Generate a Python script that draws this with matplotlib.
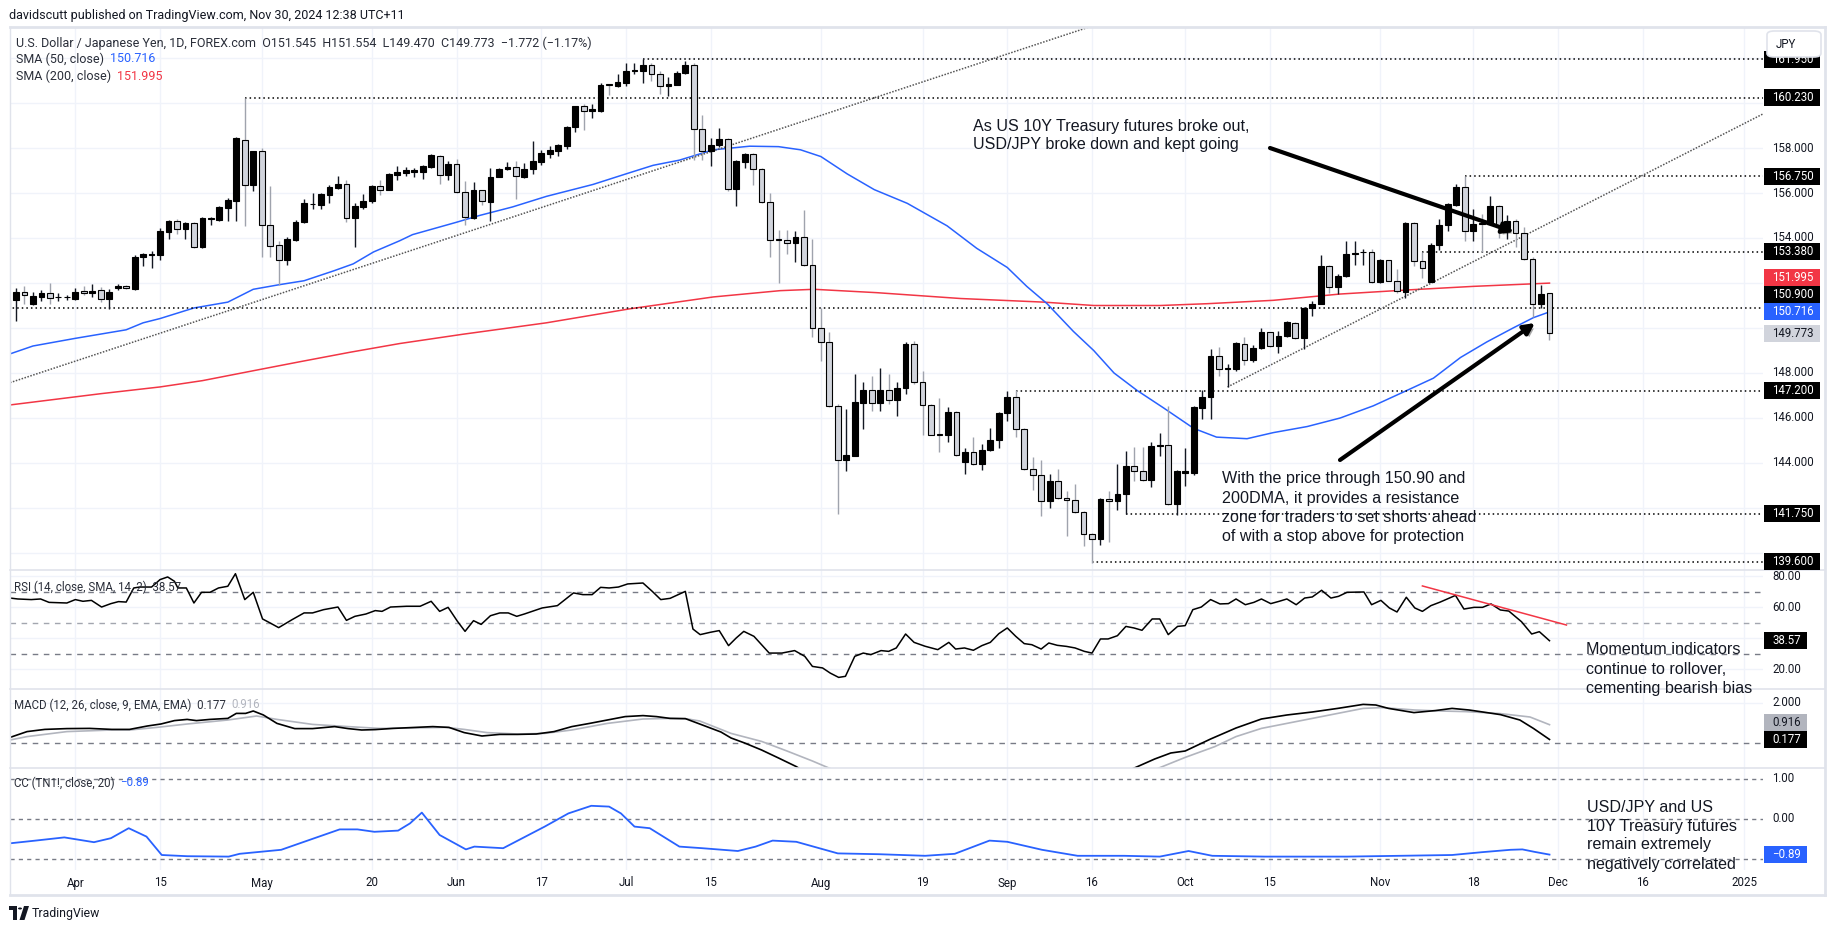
import matplotlib
matplotlib.use("Agg")
import matplotlib.pyplot as plt
import matplotlib.patches as mpatches
import matplotlib.patheffects as pe
import numpy as np

W, H = 1835, 931
UI = "Roboto"
NOTE = "Liberation Sans"
INK = "#131722"
GRID = "#f0f3fa"
BORDER = "#e0e3eb"
BLUE = "#2962ff"
RED = "#f23645"

# ---------------- data ----------------
# bar 0 = 20 Mar 2024, one bar per weekday, bar 182 = 29 Nov 2024
opens = [150.85, 151.23, 151.62, 151.05, 151.38, 151.54, 151.36, 151.36, 151.31, 151.65,
         151.54, 151.69, 151.31, 151.77, 151.88, 151.74, 153.15, 153.26, 153.26, 154.28,
         154.74, 154.38, 154.65, 153.58, 154.86, 154.82, 155.34, 155.66, 158.34, 156.34,
         157.85, 154.57, 153.69, 153.00, 153.92, 154.69, 155.49, 155.46, 155.92, 156.23,
         156.42, 154.88, 155.38, 155.66, 156.31, 156.15, 156.80, 156.88, 156.95, 156.92,
         157.15, 157.66, 156.80, 157.31, 156.05, 154.89, 156.12, 155.62, 156.72, 157.05,
         157.15, 156.69, 157.05, 157.38, 157.74, 157.88, 158.08, 158.92, 159.85, 159.65,
         159.66, 160.84, 160.74, 160.89, 161.44, 161.43, 161.69, 161.28, 160.77, 160.82,
         161.35, 161.69, 158.85, 157.88, 158.12, 158.42, 156.20, 157.38, 157.74, 157.05,
         155.58, 153.95, 153.92, 153.77, 154.05, 152.80, 150.00, 149.38, 146.54, 144.15,
         144.31, 146.66, 147.23, 146.65, 147.23, 146.80, 147.35, 149.31, 147.62, 146.58,
         145.27, 145.26, 146.28, 144.03, 144.50, 143.95, 144.58, 145.00, 146.20, 146.95,
         145.49, 143.72, 143.46, 142.31, 143.20, 142.46, 142.35, 141.82, 140.85, 140.62,
         142.42, 142.31, 142.62, 143.88, 143.65, 143.23, 144.74, 144.82, 142.18, 143.54,
         143.54, 146.46, 146.95, 148.74, 148.18, 148.18, 149.31, 148.58, 149.12, 149.80,
         149.20, 149.65, 150.23, 149.57, 150.88, 151.08, 152.77, 151.82, 152.31, 153.28,
         153.36, 153.38, 152.03, 153.00, 152.11, 151.62, 154.65, 152.97, 152.06, 153.70,
         154.58, 155.46, 156.28, 154.32, 154.66, 154.62, 155.43, 154.36, 154.76, 154.20,
         153.05, 151.05, 151.545]
highs = [151.40, 151.77, 151.88, 151.62, 151.69, 152.00, 151.54, 151.46, 151.77, 151.85,
         151.97, 151.81, 151.73, 151.97, 151.92, 153.23, 153.35, 153.42, 154.46, 154.80,
         154.85, 154.69, 154.69, 154.92, 154.95, 155.42, 155.77, 158.49, 160.23, 157.88,
         158.00, 156.30, 153.85, 154.03, 154.80, 155.74, 155.98, 155.98, 156.34, 156.77,
         156.57, 155.54, 155.97, 156.34, 156.60, 156.89, 157.20, 157.15, 157.12, 157.23,
         157.74, 157.69, 157.42, 157.49, 156.54, 156.49, 156.14, 157.10, 157.12, 157.38,
         157.43, 157.34, 158.30, 157.92, 158.08, 158.20, 159.00, 159.88, 159.97, 159.97,
         160.89, 160.85, 161.28, 161.77, 161.77, 161.95, 161.77, 161.42, 161.15, 161.43,
         161.85, 161.80, 159.46, 158.46, 158.89, 158.46, 157.46, 157.77, 157.77, 157.12,
         155.99, 154.35, 154.35, 154.30, 155.23, 153.95, 150.89, 149.80, 146.62, 146.38,
         147.95, 147.62, 147.85, 148.23, 147.95, 147.62, 149.38, 149.40, 148.08, 146.62,
         146.89, 146.51, 146.31, 144.66, 145.15, 144.85, 145.54, 146.28, 147.18, 147.26,
         145.57, 144.26, 144.12, 143.51, 143.74, 142.77, 143.05, 141.85, 140.89, 142.46,
         142.77, 143.94, 144.54, 144.69, 144.69, 144.92, 145.35, 146.54, 143.69, 144.66,
         146.54, 147.26, 149.05, 149.15, 148.38, 149.38, 149.62, 149.23, 149.98, 149.82,
         149.85, 150.31, 150.26, 150.92, 151.20, 153.23, 152.80, 152.38, 153.88, 153.85,
         153.49, 153.49, 153.05, 153.02, 152.62, 154.69, 154.69, 153.38, 153.77, 154.85,
         155.54, 156.38, 156.75, 155.30, 155.08, 155.86, 155.46, 155.00, 154.85, 154.50,
         153.15, 151.90, 151.554]
lows = [150.80, 150.31, 151.08, 151.00, 151.20, 151.08, 151.20, 151.23, 151.26, 151.46,
        151.38, 151.16, 150.85, 151.69, 151.73, 151.70, 152.77, 152.65, 153.00, 153.95,
        154.18, 153.95, 153.54, 153.54, 154.57, 154.77, 154.77, 154.77, 154.54, 156.08,
        153.15, 153.15, 151.92, 152.80, 153.88, 154.65, 155.28, 155.28, 155.57, 156.16,
        154.72, 153.62, 155.31, 155.54, 155.91, 156.12, 156.57, 156.77, 156.72, 156.62,
        157.12, 156.38, 156.60, 156.00, 154.58, 154.85, 155.46, 154.77, 156.69, 157.03,
        155.72, 156.66, 156.86, 157.23, 157.55, 157.66, 157.97, 158.72, 158.80, 159.35,
        159.62, 160.35, 160.69, 160.77, 161.31, 160.88, 161.00, 160.39, 160.31, 160.80,
        161.31, 157.46, 157.46, 157.20, 158.03, 156.08, 155.43, 157.12, 156.34, 155.57,
        153.15, 152.00, 153.31, 152.95, 152.77, 149.62, 148.54, 146.49, 141.72, 143.66,
        144.31, 145.49, 146.32, 146.32, 146.62, 146.10, 147.08, 147.50, 145.26, 145.23,
        144.49, 144.92, 144.31, 143.51, 143.92, 143.69, 144.54, 144.66, 145.85, 145.15,
        143.69, 142.80, 141.65, 142.00, 142.40, 140.77, 141.77, 140.31, 139.57, 140.35,
        140.49, 141.92, 141.72, 143.20, 143.20, 142.92, 144.31, 142.15, 141.68, 142.98,
        143.46, 145.95, 145.94, 147.85, 147.38, 148.10, 148.34, 148.49, 149.08, 149.15,
        148.89, 149.62, 149.51, 149.05, 150.54, 151.05, 151.54, 151.51, 152.28, 152.80,
        152.80, 152.00, 152.00, 152.08, 151.54, 151.35, 152.77, 152.23, 152.05, 153.46,
        154.31, 155.42, 153.85, 153.85, 153.38, 154.58, 154.00, 153.97, 153.60, 153.02,
        150.50, 150.90, 149.470]
closes = [151.23, 151.62, 151.46, 151.42, 151.57, 151.34, 151.38, 151.38, 151.62, 151.54,
          151.66, 151.31, 151.62, 151.88, 151.77, 153.15, 153.28, 153.28, 154.31, 154.74,
          154.38, 154.65, 153.58, 154.89, 154.89, 155.38, 155.69, 158.46, 156.34, 157.85,
          154.57, 153.66, 153.00, 153.97, 154.72, 155.54, 155.52, 155.95, 156.26, 156.42,
          154.88, 155.42, 155.66, 156.31, 156.15, 156.85, 156.92, 157.03, 157.03, 157.18,
          157.69, 156.82, 157.31, 156.05, 154.92, 156.12, 155.65, 156.72, 157.08, 157.15,
          156.74, 157.08, 157.42, 157.77, 157.89, 158.12, 158.95, 159.85, 159.65, 159.72,
          160.82, 160.80, 160.92, 161.42, 161.46, 161.69, 161.28, 160.77, 160.85, 161.35,
          161.69, 158.85, 157.88, 158.15, 158.42, 156.20, 157.42, 157.74, 157.05, 155.58,
          153.89, 153.92, 153.77, 154.05, 152.80, 150.00, 149.38, 146.54, 144.15, 144.34,
          146.69, 147.23, 146.65, 147.23, 146.80, 147.35, 149.31, 147.62, 146.58, 145.26,
          145.24, 146.28, 144.34, 144.50, 143.95, 144.58, 145.00, 146.23, 146.95, 145.49,
          143.72, 143.46, 142.31, 143.20, 142.43, 142.35, 141.82, 140.85, 140.62, 142.42,
          142.31, 142.62, 143.88, 143.65, 143.23, 144.74, 144.82, 142.18, 143.65, 143.65,
          146.49, 146.95, 148.74, 148.18, 148.20, 149.34, 148.58, 149.12, 149.80, 149.20,
          149.65, 150.26, 149.57, 150.88, 151.08, 152.77, 151.82, 152.31, 153.28, 153.35,
          153.38, 152.03, 153.00, 152.11, 151.66, 154.66, 152.97, 152.66, 153.70, 154.58,
          155.49, 156.28, 154.32, 154.64, 154.60, 155.43, 154.50, 154.76, 154.20, 153.05,
          151.05, 151.50, 149.773]

# moving averages (bar position, value)
sma50_x = [0.3, 3, 8, 14, 16, 18, 22, 26, 29, 32, 35, 38.5, 40.8, 43.2, 46.3, 47.8, 52.9, 55.7,
           59.6, 63.6, 69.1, 73, 76.2, 79.3, 83.3, 87.6, 91, 93.6, 96, 99.1, 102.3, 106.2, 110.9,
           114.4, 118, 120.3, 122.7, 125.8, 128.2, 130.6, 133.3, 136.4, 140, 142.7, 146.3, 149.4,
           153.4, 157.3, 161.2, 165.2, 168.3, 171.5, 174.6, 177.7, 180.1, 182]
sma50_y = [148.85, 149.2, 149.54, 149.92, 150.23, 150.42, 150.89, 151.15, 151.72, 151.92, 152.1,
           152.54, 152.85, 153.38, 153.88, 154.15, 154.69, 155.0, 155.38, 155.85, 156.38, 156.85,
           157.23, 157.46, 157.92, 158.08, 158.06, 157.92, 157.62, 156.85, 156.15, 155.54, 154.54,
           153.54, 152.69, 151.85, 151.08, 149.85, 149.0, 148.0, 147.23, 146.46, 145.54, 145.15,
           145.08, 145.35, 145.62, 146.0, 146.54, 147.23, 147.77, 148.69, 149.38, 150.0, 150.46,
           150.716]
sma200_x = [0.3, 11, 18, 23, 29, 34.5, 40.4, 46.3, 53.7, 63.6, 73.4, 83.3, 91.2, 95.2, 102.6,
            112.5, 122.3, 128.2, 136.1, 141.6, 149.4, 157.3, 165.2, 173, 182]
sma200_y = [146.58, 147.08, 147.38, 147.66, 148.1, 148.5, 148.92, 149.31, 149.72, 150.23, 150.85,
            151.38, 151.66, 151.72, 151.57, 151.31, 151.15, 151.0, 151.0, 151.08, 151.23, 151.51,
            151.69, 151.85, 151.995]

rsi_x = [0.3, 1.2, 2.8, 3.9, 4.9, 7.0, 8.0, 8.9, 9.9, 11.1, 12.2, 13.1, 14.0, 14.9, 15.6, 17.0,
         18.0, 18.9, 19.7, 20.1, 21.1, 22.0, 22.9, 23.9, 24.9, 26.0, 26.9, 28.0, 29.0, 30.1, 31.0,
         32.0, 33.6, 35.0, 36.0, 37.3, 39.0, 40.0, 41.0, 42.3, 43.4, 44.2, 45.2, 47.1, 48.7, 50.0,
         51.0, 52.0, 53.1, 54.0, 55.0, 55.9, 57.0, 58.1, 59.1, 60.1, 61.0, 63.1, 64.9, 66.8, 67.9,
         69.0, 70.0, 71.0, 72.1, 73.2, 75.0, 76.1, 77.1, 78.2, 80.0, 80.9, 81.75, 82.95, 84.0,
         85.1, 86.0, 86.9, 88.1, 89.9, 91.4, 92.9, 94.1, 95.0, 96.2, 97.1, 98.1, 98.9, 100.0,
         101.0, 101.9, 103.1, 104.0, 104.9, 106.0, 107.0, 108.3, 109.8, 111.1, 111.9, 112.95,
         114.0, 115.0, 116.0, 117.0, 118.0, 119.0, 120.0, 120.9, 122.0, 122.9, 123.9, 125.0,
         126.0, 127.1, 128.0, 129.0, 129.9, 131.0, 132.0, 132.95, 133.9, 135.1, 136.0, 137.0,
         138.1, 139.0, 139.9, 140.9, 142.0, 143.1, 144.1, 145.0, 146.1, 147.1, 148.0, 149.1,
         150.1, 151.0, 152.1, 153.1, 154.0, 155.1, 156.2, 157.1, 158.1, 160.1, 161.0, 162.1,
         163.1, 164.0, 165.1, 166.1, 167.0, 168.0, 169.1, 170.9, 171.9, 173.1, 174.1, 175.1,
         176.2, 177.2, 178.7, 179.9, 180.8, 182]
rsi_y = [66.1, 65.5, 65.1, 65.5, 63.3, 62.9, 65.1, 64.0, 64.6, 60.3, 62.5, 63.8, 63.5, 72.6, 73.2,
         73.2, 78.0, 79.7, 76.9, 72.6, 72.6, 62.9, 69.8, 69.8, 72.6, 73.7, 81.8, 65.1, 69.8, 52.6,
         50.0, 47.0, 52.2, 56.5, 56.5, 58.6, 60.3, 51.7, 54.3, 55.8, 58.0, 57.5, 60.3, 60.8, 60.8,
         64.0, 57.5, 60.1, 51.1, 44.6, 51.5, 49.1, 54.7, 56.5, 56.5, 54.3, 55.8, 59.7, 61.2, 69.4,
         68.3, 68.3, 73.0, 72.6, 73.2, 75.2, 75.8, 70.4, 65.1, 65.9, 70.4, 46.1, 42.5, 44.0, 45.1,
         35.4, 40.3, 44.6, 41.4, 30.6, 30.6, 32.2, 28.5, 22.0, 21.0, 17.7, 14.9, 15.6, 28.5,
         30.6, 29.6, 32.2, 31.7, 33.9, 42.9, 37.5, 35.0, 32.8, 37.5, 33.2, 33.9,
         32.4, 35.4, 37.5, 43.1, 46.8, 41.4, 36.7, 36.0, 33.2, 37.1, 35.6, 34.9,
         33.9, 31.7, 30.6, 39.7, 39.7, 41.8, 47.8, 46.8, 45.3, 52.6, 52.6, 42.5,
         47.8, 48.3, 58.6, 60.3, 65.1, 62.3, 62.5, 65.5, 61.8, 63.3, 65.5, 62.5,
         64.0, 65.5, 61.8, 66.1, 66.8, 71.1, 66.1, 67.2, 69.8, 70.0, 61.8, 64.6,
         59.7, 57.1, 66.6, 59.7, 57.5, 61.2, 63.5, 67.8, 59.0, 60.1, 60.1, 62.3,
         58.4, 57.7, 50.8, 42.9, 44.4, 38.57]
rsi_trend_x = [167, 184]
rsi_trend_y = [73.9, 48.7]

macd_x = [0.3, 2.3, 4.4, 7.0, 9.7, 12.3, 14.4, 16.5, 18.1, 19.7, 21.2, 22.3, 23.9, 26.0, 27.0,
          28.1, 29.0, 30.2, 31.8, 33.9, 36.0, 38.6, 40.2, 41.8, 43.4, 45.5, 47.6, 50.2, 52.1,
          53.9, 56.0, 58.1, 60.2, 62.4, 64.5, 66.6, 68.7, 70.8, 72.9, 75.0, 76.6, 78.2, 80.0,
          81.7, 84.2, 85.4, 87.0, 89.0, 91.0, 93.1, 95, 100, 110, 120, 128, 131, 133, 135.4,
          137.3, 139, 140.5, 142, 145, 148, 151, 154, 157, 160, 161.5, 163, 166, 168.5, 170.5,
          172.5, 173.8, 176.2, 178.5, 180.1, 182]
macd_y = [0.28, 0.57, 0.68, 0.72, 0.73, 0.68, 0.68, 0.85, 0.95, 1.12, 1.18, 1.12, 1.18, 1.23, 1.48,
          1.48, 1.60, 1.40, 0.98, 0.72, 0.72, 0.82, 0.72, 0.65, 0.67, 0.73, 0.77, 0.82, 0.78,
          0.52, 0.35, 0.43, 0.43, 0.45, 0.57, 0.82, 0.98, 1.15, 1.32, 1.37, 1.32, 1.23, 1.22,
          0.95, 0.55, 0.25, 0.0, -0.35, -0.75, -1.18, -1.7, -2.6, -3.0, -2.8, -2.0, -1.6, -1.25,
          -0.8, -0.5, -0.4, -0.1, 0.2, 0.75, 1.2, 1.4, 1.55, 1.73, 1.93, 1.9, 1.73, 1.52, 1.62,
          1.73, 1.65, 1.57, 1.42, 1.15, 0.73, 0.177]
signal_x = [0.3, 2.3, 7.0, 12.3, 14.4, 17.6, 21.2, 26.0, 29.4, 31.8, 36.0, 40.2, 43.9, 47.6, 51.8,
            53.9, 56.6, 60.2, 63.4, 66.6, 70.8, 75.0, 78.2, 80.3, 81.7, 85.4, 89.0, 92, 95, 97.5,
            105, 115, 125, 133, 135.9, 139, 142.5, 145, 148, 151, 154, 157, 160, 162.2, 166.1,
            169.1, 172.1, 176.2, 179.7, 182]
signal_y = [0.15, 0.32, 0.57, 0.65, 0.65, 0.78, 0.95, 1.15, 1.35, 1.18, 0.93, 0.82, 0.73, 0.75,
            0.78, 0.68, 0.52, 0.45, 0.48, 0.65, 0.98, 1.2, 1.23, 1.2, 1.1, 0.48, 0.08, -0.4, -0.9,
            -1.35, -2.3, -2.8, -2.4, -1.7, -1.25, -0.72, -0.18, 0.32, 0.73, 0.98, 1.23, 1.48,
            1.73, 1.77, 1.65, 1.6, 1.57, 1.47, 1.3, 0.916]

cc_x = [0.2, 3.3, 6.7, 10.2, 12.2, 14.3, 16.4, 18.2, 21.2, 26.1, 27.4, 32.3, 35.0, 39.2, 41.3, 43.3,
        46.1, 47.5, 48.9, 51.0, 54.1, 55.1, 58.5, 63.4, 66.2, 68.9, 71.0, 72.4, 74.0, 75.8, 79.3,
        82.0, 86.2, 88.3, 90.3, 93.1, 98.0, 102.8, 108.3, 111.8, 115.9, 118.0, 122.1, 126.3,
        131.8, 136.0, 139.4, 142.2, 148.4, 158.1, 164.3, 170.5, 174.0, 177.4, 178.8, 180.2, 182]
cc_y = [-0.61, -0.54, -0.46, -0.58, -0.48, -0.23, -0.44, -0.90, -0.93, -0.94, -0.87, -0.77, -0.57,
        -0.26, -0.26, -0.32, -0.29, -0.11, 0.16, -0.40, -0.76, -0.69, -0.73, -0.19, 0.14, 0.33,
        0.31, 0.14, -0.19, -0.23, -0.69, -0.73, -0.80, -0.69, -0.54, -0.57, -0.86, -0.88, -0.92,
        -0.87, -0.54, -0.57, -0.77, -0.92, -0.92, -0.94, -0.80, -0.92, -0.94, -0.94, -0.92,
        -0.90, -0.83, -0.77, -0.76, -0.82, -0.89]

# horizontal levels drawn on the chart and the bar they start from
level_vals = [161.95, 160.23, 156.75, 153.38, 150.90, 147.20, 141.75, 139.60]
level_from = [75, 28, 172, 167, 0, 119, 132, 128]
# dotted trend lines: start bar, start price, slope per bar
trend_lines = [(0.29, 147.57, 0.1241), (144, 147.38, 0.192)]

date_idx = [8, 18, 30, 43, 53, 63, 73, 83, 96, 108, 118, 128, 139, 149, 162, 173, 183, 193, 205]
date_lbl = ["Apr", "15", "May", "20", "Jun", "17", "Jul", "15", "Aug", "19", "Sep", "16", "Oct",
            "15", "Nov", "18", "Dec", "16", "2025"]

# ---------------- layout (pixels) ----------------
X0, X1 = 10, 1763
XL, XR = 0.29, 207.2
MAIN = (27, 570, 139.244, 163.378)
RSI = (570, 689, 7.42, 84.19)
MACD = (689, 768, -1.25, 2.7)
CC = (768, 870, -1.275, 1.275)

fig = plt.figure(figsize=(W / 100, H / 100), dpi=100)
fig.patch.set_facecolor("white")


def fx(x):
    return x / W


def fy(y):
    return 1 - y / H


def ypix(spec, v):
    top, bot, lo, hi = spec
    return top + (hi - v) / (hi - lo) * (bot - top)


def to_data(spec, x, y):
    top, bot, lo, hi = spec
    return XL + (x - X0) / (X1 - X0) * (XR - XL), hi - (y - top) / (bot - top) * (hi - lo)


def pane(spec):
    top, bot, lo, hi = spec
    ax = fig.add_axes([fx(X0), fy(bot), (X1 - X0) / W, (bot - top) / H])
    ax.set_xlim(XL, XR)
    ax.set_ylim(lo, hi)
    ax.axis("off")
    for t in date_idx:
        ax.axvline(t, color=GRID, lw=1, zorder=0)
    return ax


# ---------------- price pane ----------------
ax = pane(MAIN)
for g in range(140, 163, 2):
    ax.axhline(g, color=GRID, lw=1, zorder=0)

o = np.array(opens)
h = np.array(highs)
l = np.array(lows)
c = np.array(closes)
idx = np.arange(len(o))
up = c >= o
ax.vlines(idx[up], l[up], h[up], color="#131722", lw=1, zorder=3)
ax.vlines(idx[~up], l[~up], h[~up], color="#9fa3ad", lw=1, zorder=3)
ax.bar(idx, np.maximum(np.abs(c - o), 0.025), bottom=np.minimum(o, c), width=0.68,
       color=np.where(up, "#000000", "#d1d4dc"), edgecolor="#000000", linewidth=0.8, zorder=4)

ax.plot(sma200_x, sma200_y, color=RED, lw=1.1, zorder=2)
ax.plot(sma50_x, sma50_y, color=BLUE, lw=1.1, zorder=2)

for v, s in zip(level_vals, level_from):
    ax.hlines(v, s, XR, colors="#000000", linestyles=(0, (1, 2)), lw=1.1, zorder=2)
for s, p0, k in trend_lines:
    ax.plot([s, XR], [p0, p0 + k * (XR - s)], color="#555555", ls=(0, (1, 1)), lw=1.1, zorder=2)

shadow = [pe.SimplePatchShadow(offset=(2, -2), alpha=0.35), pe.Normal()]
for tail, head in [((1270, 148), (1514, 232)), ((1340, 460), (1535, 323))]:
    ax.annotate("", xy=to_data(MAIN, *head), xytext=to_data(MAIN, *tail),
                arrowprops=dict(arrowstyle="-|>", color="black", lw=3, mutation_scale=16,
                                shrinkA=0, shrinkB=0, path_effects=shadow), zorder=6)

# ---------------- RSI pane ----------------
ar = pane(RSI)
for g in (20, 40, 60, 80):
    ar.axhline(g, color=GRID, lw=1, zorder=0)
ar.axhline(70, color="#787b86", lw=1, ls=(0, (4, 4)))
ar.axhline(50, color="#a3a6af", lw=1, ls=(0, (4, 4)))
ar.axhline(30, color="#787b86", lw=1, ls=(0, (4, 4)))
ar.plot(rsi_x, rsi_y, color="#000000", lw=1.1)
ar.plot(rsi_trend_x, rsi_trend_y, color=RED, lw=1.1)

# ---------------- MACD pane ----------------
am = pane(MACD)
am.axhline(2, color=GRID, lw=1, zorder=0)
am.axhline(0, color="#787b86", lw=1, ls=(0, (4, 4)))
am.plot(signal_x, signal_y, color="#b2b5be", lw=1.2)
am.plot(macd_x, macd_y, color="#000000", lw=1.2)

# ---------------- correlation pane ----------------
acc = pane(CC)
for g in (1, 0, -1):
    acc.axhline(g, color="#787b86", lw=1, ls=(0, (3, 3)))
acc.plot(cc_x, cc_y, color=BLUE, lw=1.3)

# ---------------- frame & separators ----------------
def hline_px(y, x0=X0, x1=1825, color=BORDER, lw=1.2):
    fig.add_artist(plt.Line2D([fx(x0), fx(x1)], [fy(y), fy(y)], color=color, lw=lw,
                              transform=fig.transFigure))


hline_px(27, lw=2)
hline_px(895, lw=2)
for y in (570, 689, 768):
    hline_px(y)
fig.add_artist(plt.Line2D([fx(1825), fx(1825)], [fy(27), fy(895)], color=BORDER, lw=2,
                          transform=fig.transFigure))
fig.add_artist(plt.Line2D([fx(X0), fx(X0)], [fy(27), fy(895)], color=BORDER, lw=1,
                          transform=fig.transFigure))

# ---------------- axis labels ----------------
AX_FS = 8.3


def box(y, txt, bg, fg="white", w=56):
    fig.add_artist(mpatches.Rectangle((fx(1764), fy(y + 8.5)), w / W, 17 / H,
                                      transform=fig.transFigure, facecolor=bg,
                                      edgecolor="none", zorder=6))
    fig.text(fx(1772), fy(y), txt, color=fg, fontsize=AX_FS, family=UI, ha="left",
             va="center", zorder=7)


def ticks(spec, vals, fmt, box_ys):
    # scale labels that a value box would cover are not drawn
    for g in vals:
        y = ypix(spec, g)
        if all(abs(y - b) > 13 for b in box_ys):
            fig.text(fx(1772), fy(y), fmt(g), color=INK, fontsize=AX_FS, family=UI,
                     ha="left", va="center", zorder=5)


def stack(ys, gap=17):
    out = list(ys)
    last = None
    for k in np.argsort(ys)[::-1]:
        if last is not None and out[k] > last - gap:
            out[k] = last - gap
        last = out[k]
    return out


main_boxes = [(v, "#000000", "white") for v in level_vals]
main_boxes += [(151.995, RED, "white"), (150.716, BLUE, "white"), (149.773, "#d1d4dc", INK)]
ys = stack([ypix(MAIN, v) for v, _, _ in main_boxes])
for (v, bg, fg), y in zip(main_boxes, ys):
    box(y, f"{v:.3f}", bg, fg)
ticks(MAIN, range(140, 163, 2), lambda g: f"{g:.3f}", ys + [44])

rsi_box = ypix(RSI, rsi_y[-1])
box(rsi_box, f"{rsi_y[-1]:.2f}", "#000000", w=43)
ticks(RSI, (80, 60, 40, 20), lambda g: f"{g:.2f}", [rsi_box])

my = stack([ypix(MACD, signal_y[-1]), ypix(MACD, macd_y[-1])])
box(my[0], f"{signal_y[-1]:.3f}", "#b2b5be", INK, w=43)
box(my[1], f"{macd_y[-1]:.3f}", "#000000", w=43)
ticks(MACD, (2, 0), lambda g: f"{g:.3f}", my)

cc_box = ypix(CC, cc_y[-1])
box(cc_box, f"\u2212{abs(cc_y[-1]):.2f}", BLUE, w=43)
ticks(CC, (1, 0, -1), lambda g: f"{g:.2f}".replace("-", "\u2212"), [cc_box])

fig.add_artist(mpatches.FancyBboxPatch((fx(1767), fy(57)), 54 / W, 26 / H,
                                       boxstyle="round,pad=0,rounding_size=0.004",
                                       transform=fig.transFigure, facecolor="white",
                                       edgecolor=BORDER, lw=1.2, zorder=8))
fig.text(fx(1776), fy(44), "JPY", color=INK, fontsize=AX_FS, family=UI, ha="left",
         va="center", zorder=9)

for t, s in zip(date_idx, date_lbl):
    xp = X0 + (t - XL) / (XR - XL) * (X1 - X0)
    fig.text(fx(xp), fy(883), s, color=INK, fontsize=AX_FS, family=UI, ha="center", va="center")

# ---------------- legends ----------------
renderer = fig.canvas.get_renderer()
LEG_FS = 9.0


def run_text(x, y, parts, size=LEG_FS):
    for s, col in parts:
        t = fig.text(fx(x), fy(y), s, color=col, fontsize=size, family=UI, ha="left",
                     va="center", zorder=5)
        x += t.get_window_extent(renderer).width


LEG = "#2a2e39"
run_text(9, 15, [("davidscutt published on TradingView.com, Nov 30, 2024 12:38 UTC+11", INK)])
run_text(16, 43, [("U.S. Dollar / Japanese Yen, 1D, FOREX.com  O151.545  H151.554  L149.470  "
                   "C149.773  \u22121.772 (\u22121.17%)", LEG)])
run_text(16, 59, [("SMA (50, close)  ", LEG), ("150.716", BLUE)])
run_text(16, 76, [("SMA (200, close)  ", LEG), ("151.995", RED)])
run_text(14, 587, [("RSI (14, close, SMA, 14, 2)  38.57", LEG)], AX_FS)
run_text(14, 705, [("MACD (12, 26, close, 9, EMA, EMA)  0.177  ", LEG), ("0.916", "#b2b5be")],
         AX_FS)
run_text(14, 783, [("CC (TN1!, close, 20)  ", LEG), ("\u22120.89", BLUE)], AX_FS)

# ---------------- notes ----------------
NFS = 11.6


def note(x, y0, lines, pitch=19):
    for k, s in enumerate(lines):
        fig.text(fx(x), fy(y0 + k * pitch), s, color=INK, fontsize=NFS, family=NOTE,
                 ha="left", va="center", zorder=10)


note(973, 126, ["As US 10Y Treasury futures broke out,", "USD/JPY broke down and kept going"])
note(1222, 479, ["With the price through 150.90 and", "200DMA, it provides a resistance",
                 "zone for traders to set shorts ahead", "of with a stop above for protection"])
note(1586, 650, ["Momentum indicators", "continue to rollover,", "cementing bearish bias"])
note(1587, 807, ["USD/JPY and US", "10Y Treasury futures", "remain extremely",
                 "negatively correlated"])

# ---------------- TradingView mark ----------------
logo = [mpatches.Polygon([(fx(9), fy(906)), (fx(17), fy(906)), (fx(17), fy(920)),
                          (fx(13), fy(920)), (fx(13), fy(910)), (fx(9), fy(910))], closed=True),
        mpatches.Circle((fx(20), fy(908.5)), 2 / W),
        mpatches.Polygon([(fx(24), fy(906)), (fx(29), fy(906)), (fx(24.5), fy(920)),
                          (fx(19.5), fy(920))], closed=True)]
for p in logo:
    p.set_transform(fig.transFigure)
    p.set_facecolor(INK)
    p.set_edgecolor("none")
    fig.add_artist(p)
fig.text(fx(32), fy(913), "TradingView", color=INK, fontsize=8.8, family=UI, ha="left",
         va="center")

fig.savefig("out.png", dpi=100, facecolor="white")
